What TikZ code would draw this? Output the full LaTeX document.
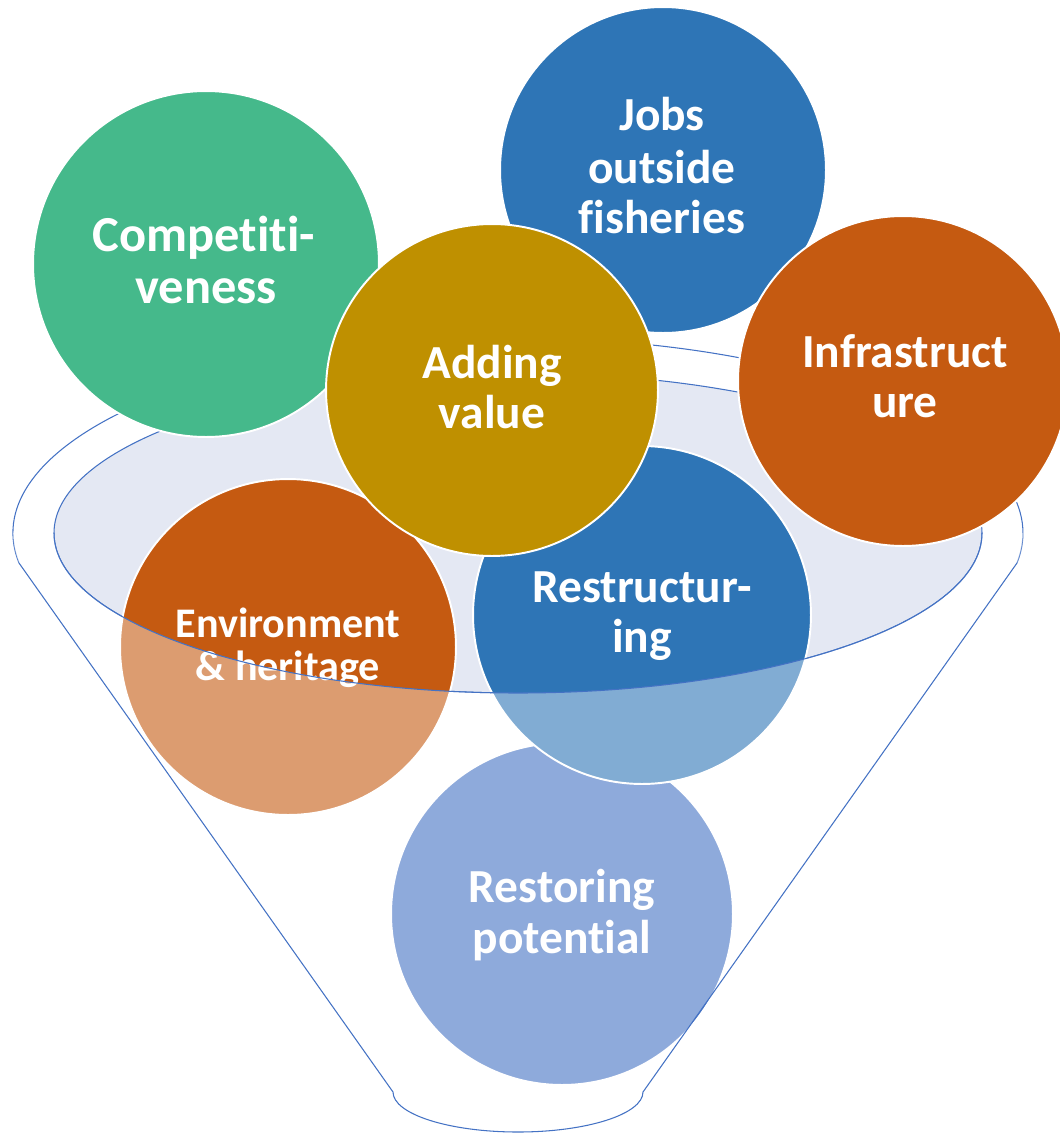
\documentclass[tikz,border=0pt]{standalone}
\usepackage{fontspec}
\setmainfont{Carlito}[Ligatures={NoCommon,NoContextual}]
\definecolor{cGreen}{HTML}{45B98B}
\definecolor{cBlue}{HTML}{2E75B6}
\definecolor{cOrange}{HTML}{C55A11}
\definecolor{cGold}{HTML}{BF9000}
\definecolor{cBlueB}{HTML}{4472C4}
\definecolor{funnelFill}{HTML}{E4E8F3}
\definecolor{funnelLine}{HTML}{4472C4}
\begin{document}
\begin{tikzpicture}[x=0.02cm,y=-0.02cm,
  bubble/.style={circle, draw=white, line width=1.1pt, inner sep=0pt},
  lbl/.style={text=white, inner sep=0pt, anchor=base, font=\bfseries\fontsize{27}{27}\selectfont},
  lblbig/.style={lbl, font=\bfseries\fontsize{28.7}{28.7}\selectfont},
  lblsmall/.style={lbl, font=\bfseries\fontsize{24}{24}\selectfont},
  fline/.style={draw=funnelLine, line width=0.6pt}]
\useasboundingbox (0,0) rectangle (1059,1133);
% back of funnel: outer rim and the opening
\draw[fline] (19,563) arc[start angle=171.15, end angle=368.85, x radius=505, y radius=195];
\draw[fline, fill=funnelFill] (518,533) ellipse [x radius=464, y radius=160];
% bubbles
\node[bubble, fill=cBlueB, minimum size=6.84cm] (restore) at (562,914) {};
\node[bubble, fill=cOrange, minimum size=6.72cm] (env) at (288,647) {};
\node[bubble, fill=cBlue, minimum size=6.76cm] (restr) at (642,615) {};
\node[bubble, fill=cGreen, minimum size=6.92cm] (comp) at (206,264) {};
\node[bubble, fill=cBlue, minimum size=6.52cm] (jobs) at (663,170) {};
\node[bubble, fill=cOrange, minimum size=6.6cm] (infra) at (903,381) {};
\node[bubble, fill=cGold, minimum size=6.64cm] (adding) at (492,390) {};
% front of funnel: translucent body
\fill[white, fill opacity=0.4] (13,533) arc[start angle=180, end angle=171.15, x radius=505, y radius=195]
  -- (393,1092) arc[start angle=180, end angle=0, x radius=125, y radius=40]
  -- (1017,563) arc[start angle=8.85, end angle=0, x radius=505, y radius=195]
  -- (982,533) arc[start angle=0, end angle=180, x radius=464, y radius=160] -- cycle;
% labels
\node[lblbig] (comp1) at (204,251) {Competiti-};
\node[lblbig] (comp2) at (206,303) {veness};
\node[lbl] (jobs1) at (662,130) {Jobs};
\node[lbl] (jobs2) at (662,183) {outside};
\node[lbl] (jobs3) at (662,233) {fisheries};
\node[lbl] (infra1) at (905,367) {Infrastruct};
\node[lbl] (infra2) at (905,417) {ure};
\node[lbl] (add1) at (492,378) {Adding};
\node[lbl] (add2) at (492,428) {value};
\node[lblsmall] (env1) at (288,637) {Environment};
\node[lblsmall] (env2) at (288,680) {\& heritage};
\node[lbl] (restr1) at (642,602) {Restructur-};
\node[lbl] (restr2) at (642,652) {ing};
\node[lbl] (restore1) at (562,902) {Restoring};
\node[lbl] (restore2) at (562,953) {potential};
% front outline of funnel
\draw[fline] (19,563) -- (393,1092) arc[start angle=180, end angle=0, x radius=125, y radius=40] -- (1017,563);
\draw[fline] (982,533) arc[start angle=0, end angle=180, x radius=464, y radius=160];
\end{tikzpicture}
\end{document}
